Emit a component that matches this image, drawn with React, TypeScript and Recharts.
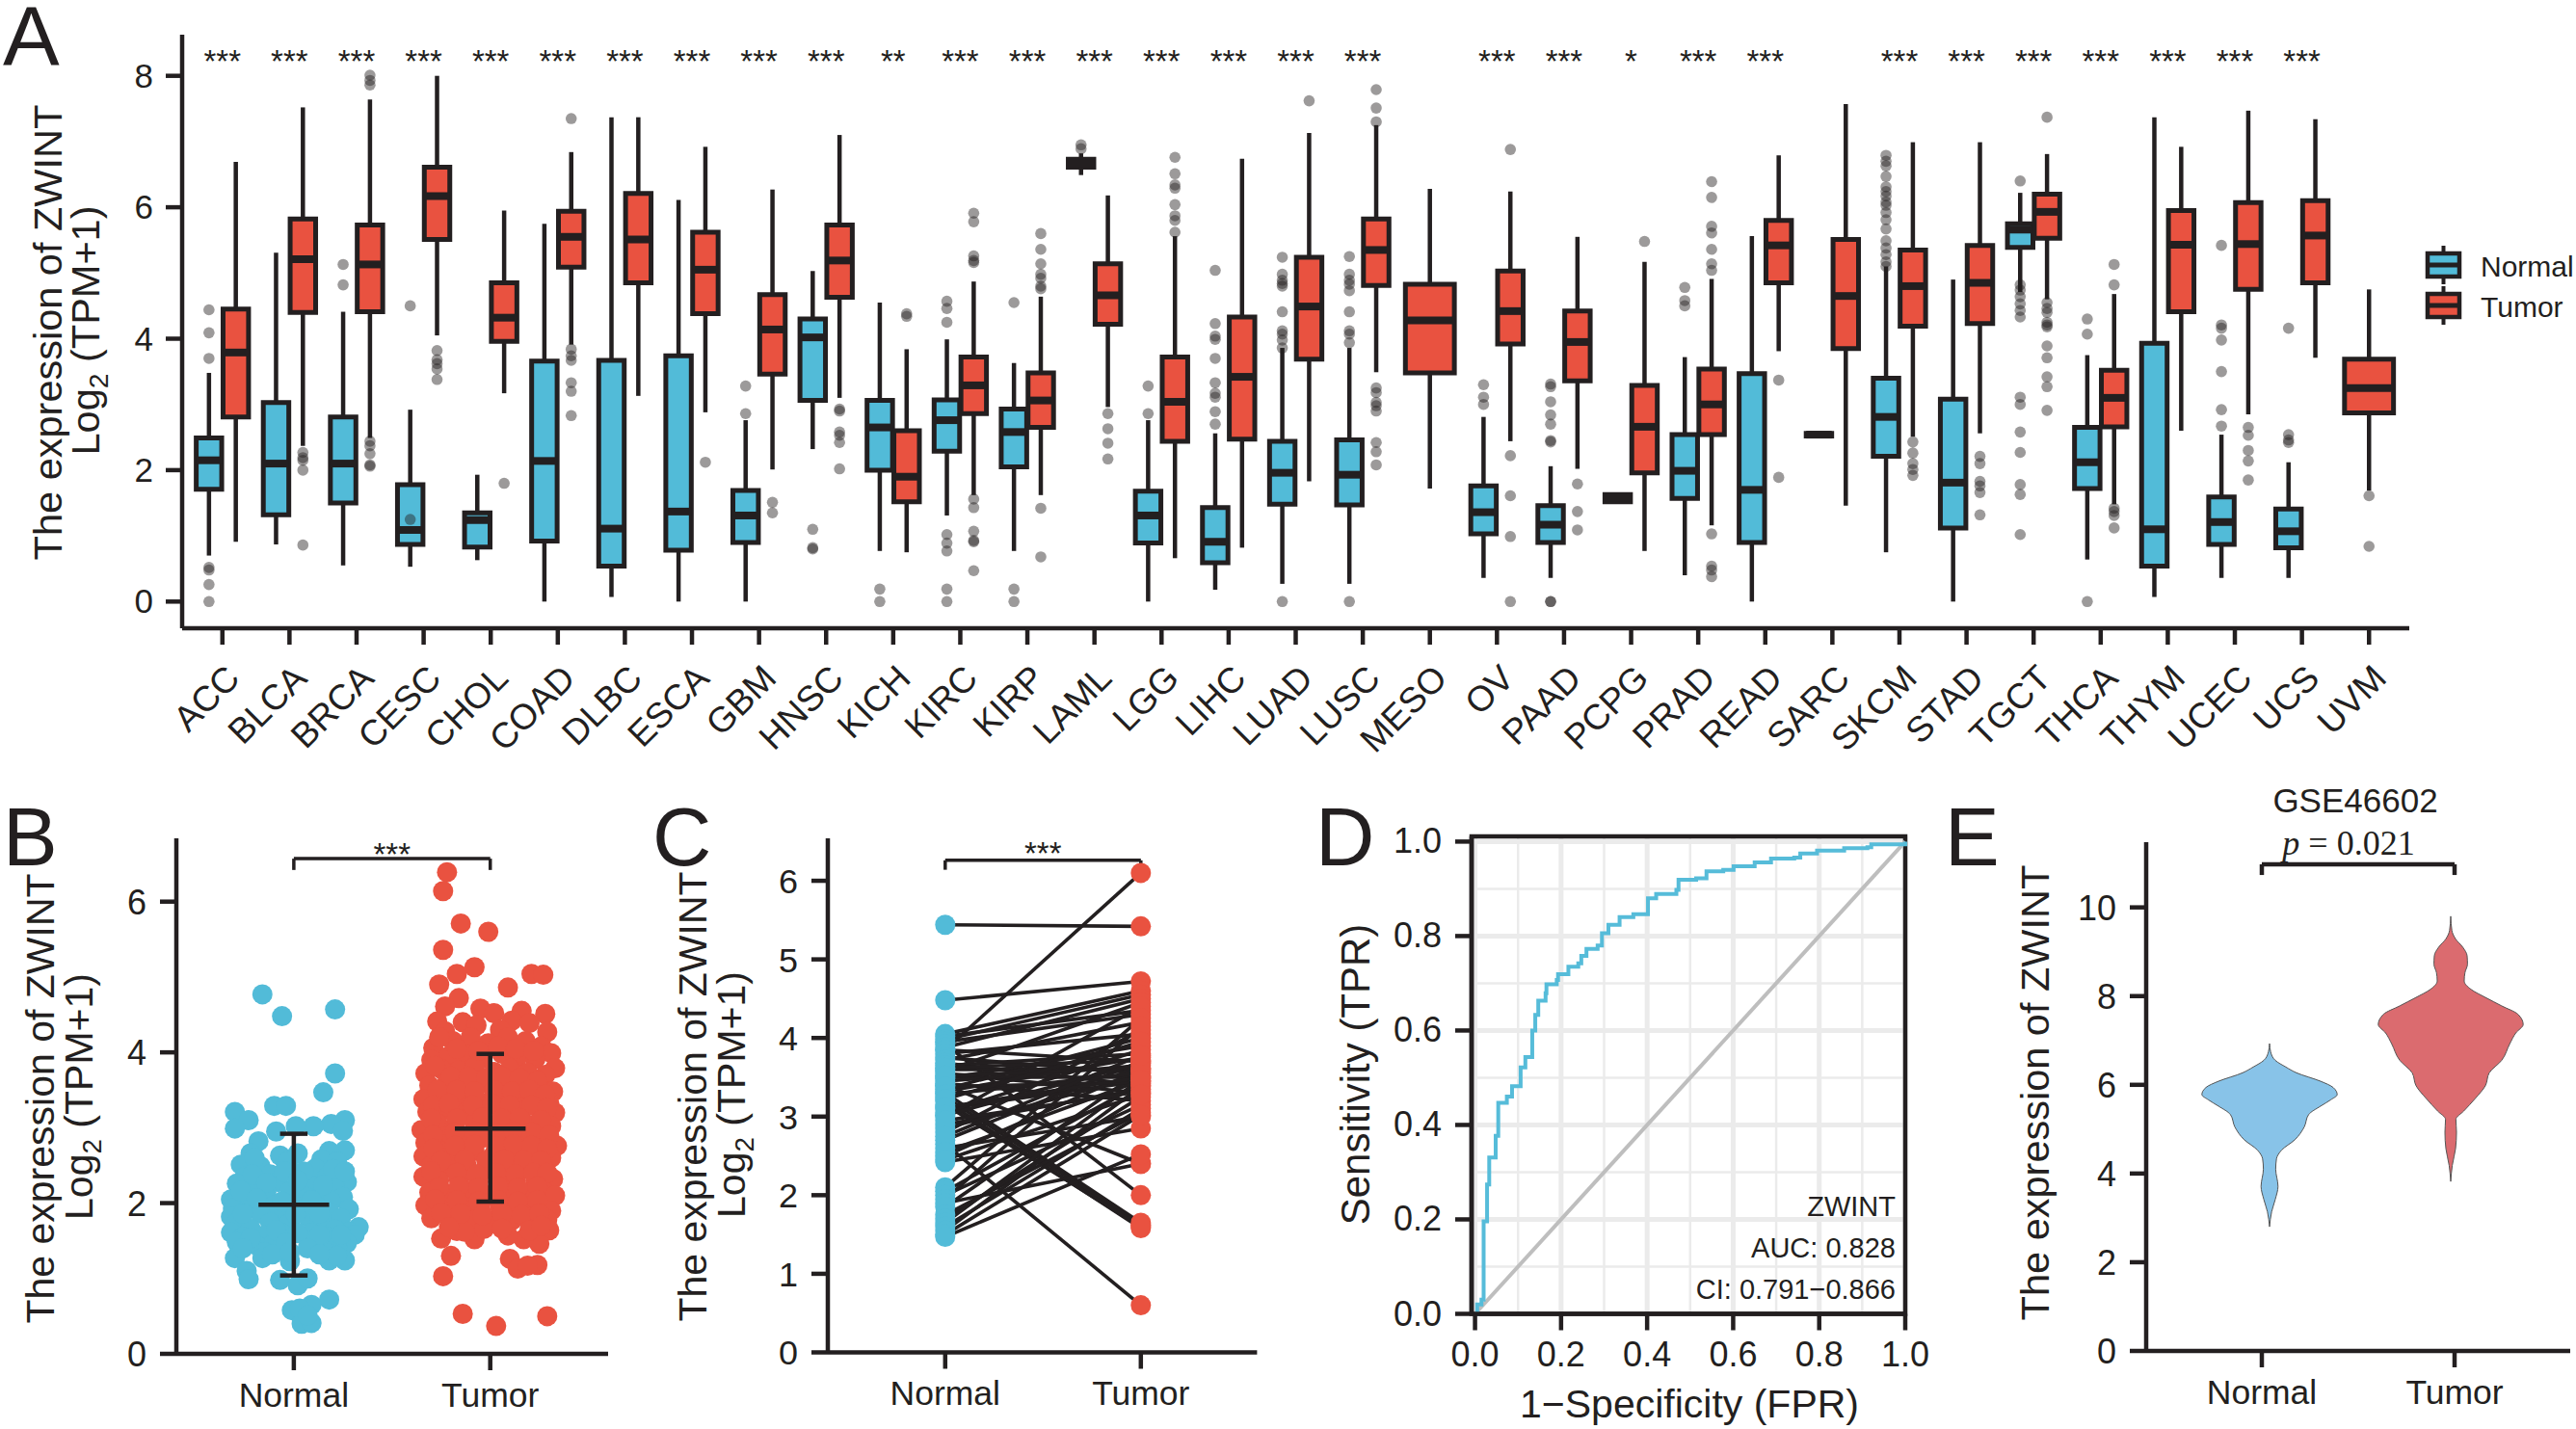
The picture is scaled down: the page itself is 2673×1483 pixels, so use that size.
import React from 'react';
import {
  Area,
  CartesianGrid,
  ComposedChart,
  Line,
  ReferenceArea,
  ReferenceLine,
  Scatter,
  XAxis,
  YAxis,
} from 'recharts';

// Multi-panel ZWINT expression figure. Panels are absolutely placed charts,
// titles and panel letters live in one svg overlay on top.

const INK = '#231f20';
const BLUE = '#52bbd8';
const RED = '#e95240';
const SANS = '"Liberation Sans", Arial, sans-serif';

// ---- panel A ----
const categories = ['ACC', 'BLCA', 'BRCA', 'CESC', 'CHOL', 'COAD', 'DLBC', 'ESCA', 'GBM', 'HNSC', 'KICH', 'KIRC', 'KIRP', 'LAML', 'LGG', 'LIHC', 'LUAD', 'LUSC', 'MESO', 'OV', 'PAAD', 'PCPG', 'PRAD', 'READ', 'SARC', 'SKCM', 'STAD', 'TGCT', 'THCA', 'THYM', 'UCEC', 'UCS', 'UVM'];
const significance = ['***', '***', '***', '***', '***', '***', '***', '***', '***', '***', '**', '***', '***', '***', '***', '***', '***', '***', '', '***', '***', '*', '***', '***', '', '***', '***', '***', '***', '***', '***', '***', ''];

// [low whisker, q1, median, q3, high whisker]
const normalBoxes: (number[] | null)[] = [
  [0.7, 1.71, 2.15, 2.49, 3.48], [0.87, 1.32, 2.1, 3.03, 5.31], [0.55, 1.5, 2.1, 2.81, 4.41], [0.53, 0.87, 1.09, 1.78, 2.92],
  [0.63, 0.83, 1.24, 1.35, 1.93], [0, 0.92, 2.14, 3.66, 5.75], [0.07, 0.54, 1.11, 3.67, 7.37], [0, 0.78, 1.37, 3.74, 6.11],
  [0, 0.9, 1.31, 1.69, 2.76], [2.32, 3.06, 4.02, 4.3, 5.03], [0.77, 2.0, 2.65, 3.06, 4.55], [1.31, 2.29, 2.76, 3.07, 3.99],
  [0.77, 2.05, 2.58, 2.93, 3.63], [6.49, 6.61, 6.67, 6.73, 6.82], [0, 0.89, 1.31, 1.68, 2.76], [0.18, 0.59, 0.91, 1.43, 2.56],
  [0.27, 1.48, 1.96, 2.44, 3.86], [0.27, 1.47, 1.93, 2.46, 3.86], null, [0.36, 1.03, 1.36, 1.76, 2.81],
  [0.36, 0.9, 1.17, 1.46, 2.06], [1.49, 1.52, 1.58, 1.63, 1.63], [0.4, 1.57, 1.99, 2.54, 3.72], [0, 0.9, 1.7, 3.47, 5.56],
  [2.52, 2.52, 2.54, 2.56, 2.56], [0.75, 2.21, 2.81, 3.4, 5.1], [0, 1.12, 1.81, 3.08, 4.9], [4.71, 5.39, 5.66, 5.75, 6.22],
  [0.64, 1.72, 2.12, 2.65, 3.75], [0.07, 0.54, 1.1, 3.93, 7.37], [0.36, 0.87, 1.21, 1.59, 2.54], [0.36, 0.82, 1.07, 1.41, 2.12],
  null,
];
const tumorBoxes: number[][] = [
  [0.91, 2.81, 3.79, 4.45, 6.69], [2.37, 4.4, 5.21, 5.82, 7.52], [2.49, 4.41, 5.13, 5.73, 7.64], [4.05, 5.51, 6.17, 6.61, 8.0],
  [3.17, 3.96, 4.32, 4.85, 5.95], [3.91, 5.09, 5.55, 5.94, 6.84], [3.13, 4.85, 5.51, 6.21, 7.37], [2.88, 4.38, 5.05, 5.62, 6.92],
  [2.01, 3.46, 4.14, 4.67, 6.27], [3.1, 4.63, 5.19, 5.73, 7.1], [0.75, 1.52, 1.9, 2.6, 3.84], [1.62, 2.86, 3.29, 3.72, 4.87],
  [1.62, 2.65, 3.06, 3.48, 4.64], [2.96, 4.22, 4.66, 5.14, 6.18], [0.66, 2.44, 3.04, 3.72, 5.56], [0.82, 2.47, 3.42, 4.33, 6.74],
  [1.83, 3.69, 4.49, 5.24, 7.13], [3.49, 4.81, 5.35, 5.82, 7.25], [1.72, 3.48, 4.28, 4.83, 6.28], [2.44, 3.92, 4.42, 5.03, 6.24],
  [2.02, 3.36, 3.95, 4.42, 5.55], [0.77, 1.96, 2.66, 3.29, 5.17], [1.16, 2.54, 3.0, 3.54, 4.91], [3.81, 4.85, 5.42, 5.8, 6.79],
  [1.46, 3.85, 4.65, 5.51, 7.57], [2.51, 4.19, 4.8, 5.35, 6.99], [2.56, 4.23, 4.85, 5.42, 6.99], [4.6, 5.53, 5.93, 6.2, 6.81],
  [1.48, 2.66, 3.1, 3.52, 4.68], [2.6, 4.41, 5.43, 5.95, 6.92], [2.85, 4.75, 5.44, 6.07, 7.47], [3.71, 4.85, 5.57, 6.1, 7.34],
  [1.69, 2.87, 3.25, 3.69, 4.75],
];
const normalOutliers: number[][] = [
  [4.44, 4.09, 3.7, 0.52, 0.48, 0.26, 0], [], [5.13, 4.82], [4.5, 1.25], [], [], [], [], [3.28, 2.86], [1.1, 0.82, 0.8],
  [0.19, 0], [4.57, 4.46, 4.25, 1.02, 0.89, 0.77, 0.19, 0], [4.55, 0.19, 0], [6.95, 6.89], [3.28, 2.86],
  [5.04, 4.23, 4.04, 3.99, 3.7, 3.33, 3.17, 3.11, 2.89, 2.7],
  [5.24, 4.98, 4.89, 4.84, 4.8, 4.41, 4.12, 4.07, 3.98, 3.86, 0],
  [5.25, 4.98, 4.89, 4.83, 4.73, 4.41, 4.12, 4.07, 3.94, 0],
  [], [3.3, 3.11, 3.0], [3.31, 3.27, 3.04, 2.84, 2.7, 2.45, 2.43, 0, 0], [], [4.78, 4.58, 4.5], [], [],
  [6.79, 6.7, 6.63, 6.47, 6.31, 6.24, 6.17, 6.08, 6.03, 5.92, 5.81, 5.67, 5.49, 5.38, 5.28, 5.17, 5.1],
  [], [6.4, 4.82, 4.74, 4.64, 4.53, 4.43, 4.33, 3.11, 3.0, 2.58, 2.27, 1.78, 1.63, 1.02], [4.3, 4.07, 0], [],
  [5.42, 4.21, 4.16, 3.98, 3.5, 2.92, 2.67], [4.16, 2.54, 2.46, 2.42], [],
];
const tumorOutliers: number[][] = [
  [], [2.27, 2.19, 2.15, 2.0, 0.86], [8.01, 7.93, 7.86, 2.44, 2.37, 2.25, 2.08, 2.06], [3.82, 3.68, 3.62, 3.54, 3.38], [1.8],
  [7.35, 3.84, 3.74, 3.67, 3.33, 3.2, 2.83], [], [2.12], [1.51, 1.35], [2.93, 2.9, 2.58, 2.53, 2.42, 2.02],
  [4.38, 4.34], [5.91, 5.78, 5.26, 5.19, 5.16, 1.56, 1.43, 1.07, 0.93, 0.91, 0.47],
  [5.6, 5.36, 5.14, 4.98, 4.92, 4.8, 4.76, 1.42, 0.68], [2.86, 2.63, 2.41, 2.17],
  [6.76, 6.51, 6.34, 6.29, 6.04, 5.87, 5.8, 5.62], [], [7.62], [7.79, 7.51, 7.3, 3.25, 3.18, 3.03, 2.98, 2.9, 2.42, 2.28, 2.08], [],
  [6.88, 2.22, 1.61, 0.99, 0], [1.79, 1.37, 1.09], [5.48], [6.39, 6.15, 5.71, 5.61, 5.36, 5.14, 5.04, 1.03, 0.54, 0.48, 0.38],
  [3.37, 1.89], [], [2.43, 2.26, 2.1, 2.01, 1.92], [2.21, 2.1, 1.83, 1.76, 1.66, 1.32],
  [7.37, 4.55, 4.46, 4.4, 4.25, 4.21, 4.18, 3.89, 3.71, 3.42, 3.27, 2.91], [5.13, 4.82, 1.42, 1.37, 1.31, 1.12], [],
  [2.65, 2.53, 2.3, 2.14, 1.85], [], [1.61, 0.84],
];

// ---- panel B: [offset from group centre, value] ----
const normalJitter = [
  [-0.16, 4.77], [-0.06, 4.48], [0.21, 4.57], [0.21, 3.72], [0.15, 3.47], [-0.1, 3.29], [-0.04, 3.29], [-0.3, 3.21], [-0.23, 3.1], [-0.3, 2.99],
  [0.26, 3.1], [0.19, 3.05], [0.25, 2.96], [0.1, 3.02], [0.01, 3.02], [-0.09, 2.95], [-0.18, 2.82], [-0.22, 2.66], [0.02, 2.66], [-0.07, 2.63],
  [0.26, 2.7], [0.18, 2.69], [0.14, 2.58], [-0.27, 2.51], [-0.17, 2.49], [-0.03, 2.55], [0.22, 2.55], [0.11, 2.46], [-0.25, 2.35], [-0.12, 2.38],
  [0.17, 2.35], [0.27, 2.28], [-0.29, 2.26], [-0.2, 2.22], [0.21, 2.2], [0.09, 2.23], [-0.08, 2.28], [0.14, 2.12], [-0.32, 2.05], [-0.25, 2.1],
  [0.25, 2.08], [-0.14, 2.14], [0.05, 2.1], [-0.02, 2.16], [0.19, 2.02], [-0.31, 1.93], [-0.22, 1.98], [-0.1, 1.97], [0.28, 1.92], [0.02, 1.95],
  [0.11, 1.98], [-0.32, 1.82], [-0.17, 1.86], [-0.05, 1.85], [0.07, 1.82], [0.18, 1.88], [0.24, 1.8], [0.33, 1.68], [-0.29, 1.74], [-0.12, 1.74],
  [0.13, 1.72], [0.28, 1.62], [-0.32, 1.61], [-0.22, 1.66], [-0.03, 1.72], [0.21, 1.65], [0.31, 1.58], [-0.26, 1.55], [-0.15, 1.57], [-0.06, 1.6],
  [0.09, 1.6], [0.17, 1.55], [0.27, 1.47], [-0.29, 1.48], [-0.19, 1.44], [-0.1, 1.48], [0.13, 1.44], [0.22, 1.42], [-0.15, 1.35], [0.18, 1.33],
  [-0.3, 1.27], [-0.24, 1.1], [-0.23, 0.99], [-0.07, 0.98], [0.02, 0.91], [0.07, 1.0], [-0.02, 1.23], [0.26, 1.24], [0.18, 1.24], [-0.16, 1.27],
  [0.18, 0.72], [0.09, 0.65], [-0.01, 0.58], [0.03, 0.6], [0.04, 0.4], [0.09, 0.41], [0.07, 0.51],
  [-0.2, 2.6], [0.05, 2.42], [-0.05, 2.42], [0.2, 2.45], [0.26, 2.42], [-0.21, 2.38], [-0.14, 2.27], [0.02, 2.3], [0.15, 2.24], [-0.27, 2.16],
  [-0.06, 2.02], [0.09, 2.04], [-0.19, 2.06], [0.01, 1.85], [0.13, 1.86], [-0.26, 1.86], [-0.09, 1.64], [0.02, 1.6], [0.13, 1.58], [0.24, 1.58],
  [-0.22, 1.54], [-0.04, 1.47], [0.07, 1.4], [-0.11, 1.32], [0.22, 1.3], [-0.02, 1.35], [-0.26, 1.4], [0.13, 1.32],
];
const tumorJitter = [
  [-0.22, 6.39], [-0.24, 6.14], [-0.15, 5.71], [-0.01, 5.6], [-0.24, 5.36], [-0.08, 5.13], [-0.17, 5.04], [-0.26, 4.9], [0.21, 5.04], [0.27, 5.03], [0.09, 4.86],
  [-0.16, 4.72], [-0.23, 4.61], [-0.27, 4.41], [-0.05, 4.58], [0.02, 4.52], [0.16, 4.55], [0.28, 4.51], [0.29, 4.27], [0.11, 4.42], [-0.14, 4.4], [-0.07, 4.36], [0.2, 4.39], [-0.23, 4.28], [0.05, 4.3],
  [-0.29, 4.06], [-0.19, 4.15], [-0.1, 4.2], [-0.01, 4.12], [0.09, 4.2], [0.18, 4.15], [0.26, 4.08], [0.31, 3.99],
  [-0.3, 3.9], [-0.21, 3.95], [-0.13, 3.98], [-0.04, 3.92], [0.06, 3.98], [0.14, 3.94], [0.23, 3.91], [0.33, 3.79],
  [-0.33, 3.72], [-0.25, 3.78], [-0.16, 3.76], [-0.08, 3.8], [0.02, 3.74], [0.1, 3.78], [0.19, 3.73], [0.28, 3.7],
  [-0.31, 3.56], [-0.22, 3.6], [-0.12, 3.57], [-0.03, 3.6], [0.07, 3.56], [0.16, 3.58], [0.25, 3.53], [0.32, 3.48],
  [-0.34, 3.38], [-0.26, 3.42], [-0.17, 3.4], [-0.07, 3.38], [0.02, 3.42], [0.12, 3.38], [0.21, 3.4], [0.3, 3.33],
  [-0.32, 3.21], [-0.22, 3.24], [-0.13, 3.2], [-0.04, 3.24], [0.06, 3.2], [0.16, 3.22], [0.26, 3.18], [0.33, 3.2],
  [-0.35, 2.97], [-0.27, 3.06], [-0.18, 3.03], [-0.08, 3.06], [0.02, 3.02], [0.1, 3.05], [0.21, 3.03], [0.31, 3.02],
  [-0.33, 2.8], [-0.23, 2.88], [-0.13, 2.84], [-0.03, 2.87], [0.07, 2.84], [0.16, 2.87], [0.25, 2.84], [0.34, 2.76],
  [-0.34, 2.62], [-0.26, 2.7], [-0.17, 2.66], [-0.08, 2.69], [0.02, 2.65], [0.12, 2.68], [0.21, 2.66], [0.31, 2.6],
  [-0.3, 2.5], [-0.21, 2.48], [-0.12, 2.5], [-0.02, 2.46], [0.08, 2.5], [0.17, 2.47], [0.27, 2.48],
  [-0.34, 2.35], [-0.26, 2.3], [-0.16, 2.32], [-0.06, 2.28], [0.04, 2.32], [0.13, 2.29], [0.23, 2.3], [0.32, 2.32],
  [-0.31, 2.14], [-0.21, 2.12], [-0.11, 2.14], [-0.01, 2.1], [0.09, 2.13], [0.19, 2.11], [0.28, 2.14], [0.33, 2.1],
  [-0.33, 1.97], [-0.24, 1.95], [-0.14, 1.96], [-0.05, 1.92], [0.05, 1.95], [0.15, 1.93], [0.24, 1.95], [0.31, 1.9],
  [-0.3, 1.8], [-0.2, 1.78], [-0.09, 1.77], [0.01, 1.75], [0.11, 1.77], [0.2, 1.76], [0.29, 1.78],
  [-0.25, 1.53], [-0.17, 1.63], [-0.08, 1.52], [0.3, 1.64], [0.25, 1.46], [0.17, 1.52], [0.09, 1.57], [-0.2, 1.3], [-0.13, 1.62], [-0.03, 1.66],
  [0.1, 1.26], [0.14, 1.13], [0.24, 1.18], [0.19, 1.17], [-0.24, 1.03], [-0.14, 0.53], [0.03, 0.37], [0.29, 0.5],
  [-0.26, 4.2], [-0.17, 4.05], [-0.06, 4.02], [0.04, 4.08], [0.13, 4.05], [0.22, 4.02], [-0.28, 3.82], [-0.2, 3.68], [-0.11, 3.68], [-0.02, 3.66],
  [0.06, 3.68], [0.15, 3.66], [0.24, 3.62], [-0.27, 3.5], [-0.17, 3.5], [-0.08, 3.48], [0.02, 3.5], [0.11, 3.48], [0.2, 3.5], [0.28, 3.44],
  [-0.29, 3.3], [-0.21, 3.32], [-0.09, 3.3], [0.01, 3.32], [0.1, 3.3], [0.21, 3.3], [0.29, 3.26], [-0.3, 3.12], [-0.17, 3.12], [-0.04, 3.14],
  [0.06, 3.12], [0.15, 3.13], [0.26, 3.1], [-0.29, 2.9], [-0.18, 2.94], [-0.08, 2.95], [0.03, 2.93], [0.12, 2.95], [0.21, 2.94], [0.3, 2.9],
  [-0.29, 2.72], [-0.18, 2.76], [-0.08, 2.77], [0.03, 2.75], [0.12, 2.78], [0.21, 2.76], [0.29, 2.72], [-0.25, 2.56], [-0.13, 2.58], [-0.02, 2.56],
  [0.07, 2.58], [0.17, 2.57], [0.26, 2.56], [-0.3, 2.42], [-0.17, 2.4], [-0.07, 2.38], [0.03, 2.4], [0.13, 2.38], [0.22, 2.4], [0.29, 2.4],
  [-0.26, 2.21], [-0.16, 2.22], [-0.06, 2.2], [0.04, 2.22], [0.14, 2.2], [0.24, 2.22], [-0.28, 2.05], [-0.17, 2.04], [-0.06, 2.02], [0.04, 2.04],
  [0.14, 2.02], [0.24, 2.04], [-0.25, 1.87], [-0.15, 1.86], [-0.04, 1.84], [0.06, 1.86], [0.16, 1.84], [0.25, 1.86], [-0.21, 1.68], [0.06, 1.66], [0.2, 1.64], [0.26, 1.7],
];
// [group, mean, mean - sd, mean + sd]
const jitterSummary = [
  [1, 1.98, 1.04, 2.92],
  [2, 2.99, 2.02, 3.98],
];

// ---- panel C: paired samples, same order in both lists ----
const pairedNormal = [3.85, 5.44, 4.48, 4.05, 4.02, 3.98, 3.95, 3.92, 3.88, 3.85, 3.8, 3.75, 3.72, 3.68, 3.65, 3.6, 3.58, 3.55, 3.5, 3.48, 3.45, 3.42, 3.4, 3.35, 3.32, 3.3, 3.25, 3.2, 3.15, 3.1, 3.05, 3.0, 2.9, 2.85, 2.8, 2.7, 2.65, 2.6, 2.5, 2.42, 2.1, 2.05, 2.0, 1.95, 1.9, 1.85, 1.75, 1.7, 1.65, 1.6, 1.55, 1.5, 1.47, 3.62, 3.52, 3.38, 3.28, 3.22, 3.12, 3.02, 2.95, 2.75, 2.55, 2.45];
const pairedTumor = [6.1, 5.42, 4.72, 4.6, 4.35, 4.55, 4.3, 2.0, 4.5, 3.7, 4.05, 3.55, 4.2, 3.4, 3.8, 3.6, 4.45, 3.3, 3.5, 3.9, 3.65, 3.2, 2.4, 4.0, 3.75, 1.65, 1.62, 1.58, 1.6, 3.45, 3.85, 4.4, 3.35, 3.52, 4.1, 3.7, 0.6, 3.0, 3.6, 2.85, 4.25, 3.42, 3.15, 4.15, 2.4, 3.58, 3.05, 3.25, 3.48, 3.1, 3.38, 3.02, 2.52, 3.72, 3.62, 3.44, 3.56, 3.95, 3.5, 3.68, 3.32, 3.78, 3.46, 3.28];

// ---- panel D ----
const rocFpr = [0, 0.005, 0.015, 0.02, 0.02, 0.028, 0.033, 0.048, 0.054, 0.074, 0.074, 0.086, 0.106, 0.106, 0.117, 0.133, 0.133, 0.14, 0.147, 0.164, 0.166, 0.19, 0.193, 0.217, 0.24, 0.247, 0.259, 0.285, 0.295, 0.31, 0.336, 0.336, 0.368, 0.402, 0.402, 0.421, 0.468, 0.473, 0.514, 0.538, 0.577, 0.601, 0.65, 0.688, 0.742, 0.756, 0.795, 0.858, 0.912, 0.921, 1, 1];
const rocTpr = [0, 0.02, 0.03, 0.043, 0.196, 0.274, 0.331, 0.377, 0.447, 0.447, 0.46, 0.482, 0.504, 0.522, 0.544, 0.564, 0.6, 0.633, 0.663, 0.679, 0.698, 0.707, 0.719, 0.735, 0.742, 0.758, 0.773, 0.78, 0.806, 0.824, 0.829, 0.84, 0.846, 0.867, 0.88, 0.889, 0.898, 0.919, 0.922, 0.937, 0.94, 0.948, 0.956, 0.964, 0.966, 0.975, 0.981, 0.986, 0.988, 0.994, 0.996, 1];
const rocMajor = [0, 0.2, 0.4, 0.6, 0.8, 1];
const rocMinor = [0.1, 0.3, 0.5, 0.7, 0.9];

// ---- panel E: violin outlines as value level and half width ----
const normalLevels = [6.93, 6.74, 6.55, 6.4, 6.27, 6.08, 5.94, 5.78, 5.66, 5.52, 5.33, 5.05, 4.76, 4.53, 4.33, 4.1, 3.71, 3.42, 3.14, 2.8];
const normalHalf = [0, 0.006, 0.03, 0.085, 0.14, 0.265, 0.33, 0.351, 0.317, 0.265, 0.203, 0.18, 0.131, 0.063, 0.036, 0.032, 0.044, 0.03, 0.011, 0];
const tumorLevels = [9.8, 9.48, 9.29, 9.1, 8.91, 8.72, 8.53, 8.34, 8.15, 7.97, 7.78, 7.59, 7.36, 7.17, 6.93, 6.55, 6.27, 5.98, 5.69, 5.41, 5.22, 4.93, 4.56, 4.18, 3.82];
const tumorHalf = [0, 0.006, 0.025, 0.063, 0.085, 0.087, 0.074, 0.07, 0.106, 0.18, 0.264, 0.349, 0.376, 0.338, 0.307, 0.264, 0.2, 0.18, 0.127, 0.068, 0.027, 0.03, 0.025, 0.008, 0];
const normalCentre = 1.04;
const tumorCentre = 1.98;

// ---- shared bits ----
const AXIS_W = 4.5;
const PAD = 40;
const axisStyle = {
  axisLine: { stroke: INK, strokeWidth: AXIS_W },
  tickLine: { stroke: INK, strokeWidth: AXIS_W },
  tickSize: 17,
  tickMargin: 0,
  interval: 0 as const,
};

function Frame({ plot, yw, xh, layout, children }: any) {
  return (
    <div style={{ position: 'absolute', left: plot.l - yw - PAD, top: plot.t - PAD }}>
      <ComposedChart
        width={plot.w + yw + 2 * PAD}
        height={plot.h + xh + 2 * PAD}
        margin={{ top: PAD, right: PAD, bottom: PAD, left: PAD }}
        layout={layout}
      >
        {children}
      </ComposedChart>
    </div>
  );
}

const tickText = (size: number, anchor: string, dx: number, dy: number, fmt: (v: any) => string) => (p: any) => (
  <text x={p.x + dx} y={p.y + dy} textAnchor={anchor} fontSize={size} fontFamily={SANS} fill={INK}>
    {fmt(p.payload.value)}
  </text>
);

const groupLabels = ['', 'Normal', 'Tumor'];
const groupTick = tickText(35.5, 'middle', 0, 38, (v) => groupLabels[v]);
const countTick = tickText(36, 'end', -14, 13, (v) => String(v));

const CategoryTick = (p: any) => (
  <text
    transform={`translate(${p.x + 20},${p.y + 37}) rotate(-45)`}
    textAnchor="end"
    fontSize={37}
    fontFamily={SANS}
    fill={INK}
  >
    {categories[p.payload.value - 1]}
  </text>
);

const StarMark = (p: any) => (
  <text x={p.cx} y={p.cy + 19} textAnchor="middle" fontSize={33} fontFamily={SANS} fill={INK}>
    {p.payload.label}
  </text>
);

const round = (r: number, fill: string, opacity = 1) => (p: any) => (
  <circle cx={p.cx} cy={p.cy} r={r} fill={fill} fillOpacity={opacity} />
);

function Seg({ x1, y1, x2, y2, w, k }: any) {
  return (
    <ReferenceLine
      key={k}
      segment={[{ x: x1, y: y1 }, { x: x2, y: y2 }]}
      stroke={INK}
      strokeWidth={w}
    />
  );
}

// two point scatter with a joining line, so the error bars sit above the dots
function TopSeg({ x1, y1, x2, y2, k }: any) {
  return (
    <Scatter
      key={k}
      data={[{ x: x1, y: y1 }, { x: x2, y: y2 }]}
      line={{ stroke: INK, strokeWidth: 4.5 }}
      shape={() => null}
      isAnimationActive={false}
    />
  );
}

function boxMarks(box: number[], centre: number, half: number, fill: string, key: string) {
  const [lo, q1, med, q3, hi] = box;
  return [
    Seg({ x1: centre, y1: q3, x2: centre, y2: hi, w: 4.5, k: key + 'h' }),
    Seg({ x1: centre, y1: lo, x2: centre, y2: q1, w: 4.5, k: key + 'l' }),
    <ReferenceArea
      key={key + 'b'}
      x1={centre - half}
      x2={centre + half}
      y1={q1}
      y2={q3}
      fill={fill}
      fillOpacity={1}
      stroke={INK}
      strokeWidth={5}
    />,
    Seg({ x1: centre - half, y1: med, x2: centre + half, y2: med, w: 8, k: key + 'm' }),
  ];
}

const bracket = (y: number, drop: number, w: number) => [
  Seg({ x1: 1, y1: y, x2: 2, y2: y, w, k: 'bt' }),
  Seg({ x1: 1, y1: y, x2: 1, y2: drop, w, k: 'bl' }),
  Seg({ x1: 2, y1: y, x2: 2, y2: drop, w, k: 'br' }),
];

// ---- panels ----
const tickIndex = categories.map((_, i) => i + 1);

function PanelA() {
  const outliers: { x: number; y: number }[] = [];
  categories.forEach((_, i) => {
    const single = !normalBoxes[i];
    normalOutliers[i].forEach((y) => outliers.push({ x: i + 0.8, y }));
    tumorOutliers[i].forEach((y) => outliers.push({ x: single ? i + 1 : i + 1.2, y }));
  });
  const stars = significance.map((label, i) => ({ x: i + 1, y: 8.34, label })).filter((s) => s.label);
  return (
    <Frame plot={{ l: 188.5, t: 36, w: 2311, h: 616 }} yw={70} xh={150}>
      <XAxis
        type="number"
        dataKey="x"
        domain={[0.4, 33.6]}
        ticks={tickIndex}
        height={150}
        tick={CategoryTick}
        {...axisStyle}
      />
      <YAxis
        type="number"
        dataKey="y"
        domain={[-0.406, 8.626]}
        ticks={[0, 2, 4, 6, 8]}
        width={70}
        tick={tickText(35, 'end', -13, 12, String)}
        {...axisStyle}
      />
      {categories.map((_, i) => {
        const n = normalBoxes[i];
        return n
          ? [
              ...boxMarks(n, i + 0.8, 0.19, BLUE, `n${i}`),
              ...boxMarks(tumorBoxes[i], i + 1.2, 0.19, RED, `t${i}`),
            ]
          : boxMarks(tumorBoxes[i], i + 1, 0.365, RED, `t${i}`);
      })}
      <Scatter data={outliers} shape={round(5.8, INK, 0.45)} isAnimationActive={false} />
      <Scatter data={stars} shape={StarMark} isAnimationActive={false} />
    </Frame>
  );
}

function PanelB() {
  return (
    <Frame plot={{ l: 183, t: 870, w: 448, h: 535 }} yw={70} xh={70}>
      <XAxis type="number" dataKey="x" domain={[0.402, 2.6]} ticks={[1, 2]} height={70} tick={groupTick} {...axisStyle} />
      <YAxis type="number" dataKey="y" domain={[0, 6.84]} ticks={[0, 2, 4, 6]} width={70} tick={countTick} {...axisStyle} />
      <Scatter data={normalJitter.map(([d, y]) => ({ x: 1 + d, y }))} shape={round(10.5, BLUE)} isAnimationActive={false} />
      <Scatter data={tumorJitter.map(([d, y]) => ({ x: 2 + d, y }))} shape={round(10.5, RED)} isAnimationActive={false} />
      <Scatter data={[{ x: 1.5, y: 6.72, label: '***' }]} shape={StarMark} isAnimationActive={false} />
      {bracket(6.57, 6.42, 3.5)}
      {jitterSummary.map(([g, mean, lo, hi]) => [
        TopSeg({ x1: g, y1: lo, x2: g, y2: hi, k: `v${g}` }),
        TopSeg({ x1: g - 0.18, y1: mean, x2: g + 0.18, y2: mean, k: `m${g}` }),
        TopSeg({ x1: g - 0.07, y1: lo, x2: g + 0.07, y2: lo, k: `l${g}` }),
        TopSeg({ x1: g - 0.07, y1: hi, x2: g + 0.07, y2: hi, k: `h${g}` }),
      ])}
    </Frame>
  );
}

function PanelC() {
  return (
    <Frame plot={{ l: 858.6, t: 870, w: 445.4, h: 533.5 }} yw={70} xh={70}>
      <XAxis type="number" dataKey="x" domain={[0.4, 2.594]} ticks={[1, 2]} height={70} tick={groupTick} {...axisStyle} />
      <YAxis type="number" dataKey="y" domain={[0, 6.54]} ticks={[0, 1, 2, 3, 4, 5, 6]} width={70} tick={countTick} {...axisStyle} />
      {pairedNormal.map((n, i) => (
        <Line
          key={i}
          data={[{ x: 1, y: n }, { x: 2, y: pairedTumor[i] }]}
          dataKey="y"
          stroke={INK}
          strokeWidth={3.6}
          dot={false}
          activeDot={false}
          isAnimationActive={false}
        />
      ))}
      <Scatter data={pairedNormal.map((y) => ({ x: 1, y }))} shape={round(10.5, BLUE)} isAnimationActive={false} />
      <Scatter data={pairedTumor.map((y) => ({ x: 2, y }))} shape={round(10.5, RED)} isAnimationActive={false} />
      <Scatter data={[{ x: 1.5, y: 6.44, label: '***' }]} shape={StarMark} isAnimationActive={false} />
      {bracket(6.26, 6.14, 3.5)}
    </Frame>
  );
}

function PanelD() {
  return (
    <Frame plot={{ l: 1527, t: 867.5, w: 450, h: 495.5 }} yw={70} xh={70}>
      <CartesianGrid horizontalValues={rocMinor} verticalValues={rocMinor} stroke="#ebebeb" strokeWidth={2.5} />
      <CartesianGrid horizontalValues={rocMajor} verticalValues={rocMajor} stroke="#ebebeb" strokeWidth={5} />
      <XAxis
        type="number"
        dataKey="x"
        domain={[-0.008, 1]}
        ticks={rocMajor}
        height={70}
        tick={tickText(36, 'middle', 0, 37, (v) => v.toFixed(1))}
        {...axisStyle}
      />
      <YAxis
        type="number"
        dataKey="y"
        domain={[0, 1.011]}
        ticks={rocMajor}
        width={70}
        tick={tickText(36, 'end', -14, 12, (v) => v.toFixed(1))}
        {...axisStyle}
      />
      <Line
        data={[{ x: 0, y: 0 }, { x: 1, y: 1 }]}
        dataKey="y"
        stroke="#bebebe"
        strokeWidth={4}
        dot={false}
        activeDot={false}
        isAnimationActive={false}
      />
      <Line
        data={rocFpr.map((x, i) => ({ x, y: rocTpr[i] }))}
        dataKey="y"
        type="stepAfter"
        stroke="#56bcd9"
        strokeWidth={4}
        dot={false}
        activeDot={false}
        isAnimationActive={false}
      />
      <ReferenceArea x1={-0.008} x2={1} y1={0} y2={1.011} fill="none" stroke={INK} strokeWidth={4.5} />
    </Frame>
  );
}

function PanelE() {
  const violin = (levels: number[], half: number[], centre: number) =>
    levels.map((y, i) => ({ y, span: [centre - half[i], centre + half[i]] }));
  return (
    <Frame plot={{ l: 2227, t: 874, w: 440, h: 528 }} yw={70} xh={70} layout="vertical">
      <XAxis type="number" domain={[0.4, 2.6]} ticks={[1, 2]} height={70} tick={groupTick} {...axisStyle} />
      <YAxis type="number" dataKey="y" reversed domain={[0, 11.47]} ticks={[0, 2, 4, 6, 8, 10]} width={70} tick={countTick} {...axisStyle} />
      <Area
        data={violin(normalLevels, normalHalf, normalCentre)}
        dataKey="span"
        type="monotoneY"
        fill="#88c3e8"
        fillOpacity={1}
        stroke="#555555"
        strokeWidth={1}
        dot={false}
        activeDot={false}
        isAnimationActive={false}
      />
      <Area
        data={violin(tumorLevels, tumorHalf, tumorCentre)}
        dataKey="span"
        type="monotoneY"
        fill="#db6b6f"
        fillOpacity={1}
        stroke="#555555"
        strokeWidth={1}
        dot={false}
        activeDot={false}
        isAnimationActive={false}
      />
      {bracket(10.97, 10.73, 4.5)}
    </Frame>
  );
}

// ---- text overlay ----
function Letter({ x, y, c, size = 85 }: any) {
  return (
    <text x={x} y={y} fontSize={size} fontFamily={SANS} fill={INK}>
      {c}
    </text>
  );
}

function TwoLineTitle({ x1, x2, cy, size }: any) {
  return (
    <g fontFamily={SANS} fill={INK} fontSize={size} textAnchor="middle">
      <text transform={`translate(${x1},${cy}) rotate(-90)`}>The expression of ZWINT</text>
      <text transform={`translate(${x2},${cy - 2}) rotate(-90)`}>
        Log
        <tspan fontSize={size * 0.68} dy={size * 0.22}>2</tspan>
        <tspan dy={-size * 0.22}> (TPM+1)</tspan>
      </text>
    </g>
  );
}

function LegendKey({ top, fill, label }: any) {
  const x = 2519;
  return (
    <g>
      <line x1={x + 16.5} x2={x + 16.5} y1={top - 8} y2={top + 32} stroke={INK} strokeWidth={4} />
      <rect x={x} y={top} width={33} height={24} fill={fill} stroke={INK} strokeWidth={4.5} />
      <line x1={x} x2={x + 33} y1={top + 12} y2={top + 12} stroke={INK} strokeWidth={5} />
      <text x={2574} y={top + 24} fontSize={30} fontFamily={SANS} fill={INK}>
        {label}
      </text>
    </g>
  );
}

function Overlay() {
  return (
    <svg width={2673} height={1483} style={{ position: 'absolute', left: 0, top: 0, pointerEvents: 'none' }}>
      <Letter x={3} y={68} c="A" size={88} />
      <Letter x={3} y={898} c="B" />
      <Letter x={677} y={898} c="C" />
      <Letter x={1365} y={898} c="D" />
      <Letter x={2018} y={898} c="E" />

      <TwoLineTitle x1={64} x2={103} cy={345} size={41.5} />
      <TwoLineTitle x1={56} x2={96} cy={1140} size={41} />
      <TwoLineTitle x1={733} x2={773} cy={1138} size={41} />

      <LegendKey top={263} fill={BLUE} label="Normal" />
      <LegendKey top={305} fill={RED} label="Tumor" />

      <g fontFamily={SANS} fill={INK}>
        <text x={1753} y={1471} fontSize={41} textAnchor="middle">1−Specificity (FPR)</text>
        <text transform="translate(1421,1115) rotate(-90)" fontSize={42} textAnchor="middle">Sensitivity (TPR)</text>
        <g fontSize={29} textAnchor="end">
          <text x={1967} y={1262}>ZWINT</text>
          <text x={1967} y={1305}>AUC: 0.828</text>
          <text x={1967} y={1348}>CI: 0.791−0.866</text>
        </g>
        <text x={2444} y={843} fontSize={35} textAnchor="middle">GSE46602</text>
        <text transform="translate(2126,1134) rotate(-90)" fontSize={41.5} textAnchor="middle">The expression of ZWINT</text>
      </g>
      <text x={2437} y={887} fontSize={36} textAnchor="middle" fontFamily='"Liberation Serif", serif' fill={INK}>
        <tspan fontStyle="italic">p</tspan> = 0.021
      </text>
    </svg>
  );
}

export default function App() {
  return (
    <div style={{ position: 'absolute', left: 0, top: 0, width: 2673, height: 1483, background: '#fff', overflow: 'hidden' }}>
      <PanelA />
      <PanelB />
      <PanelC />
      <PanelD />
      <PanelE />
      <Overlay />
    </div>
  );
}
